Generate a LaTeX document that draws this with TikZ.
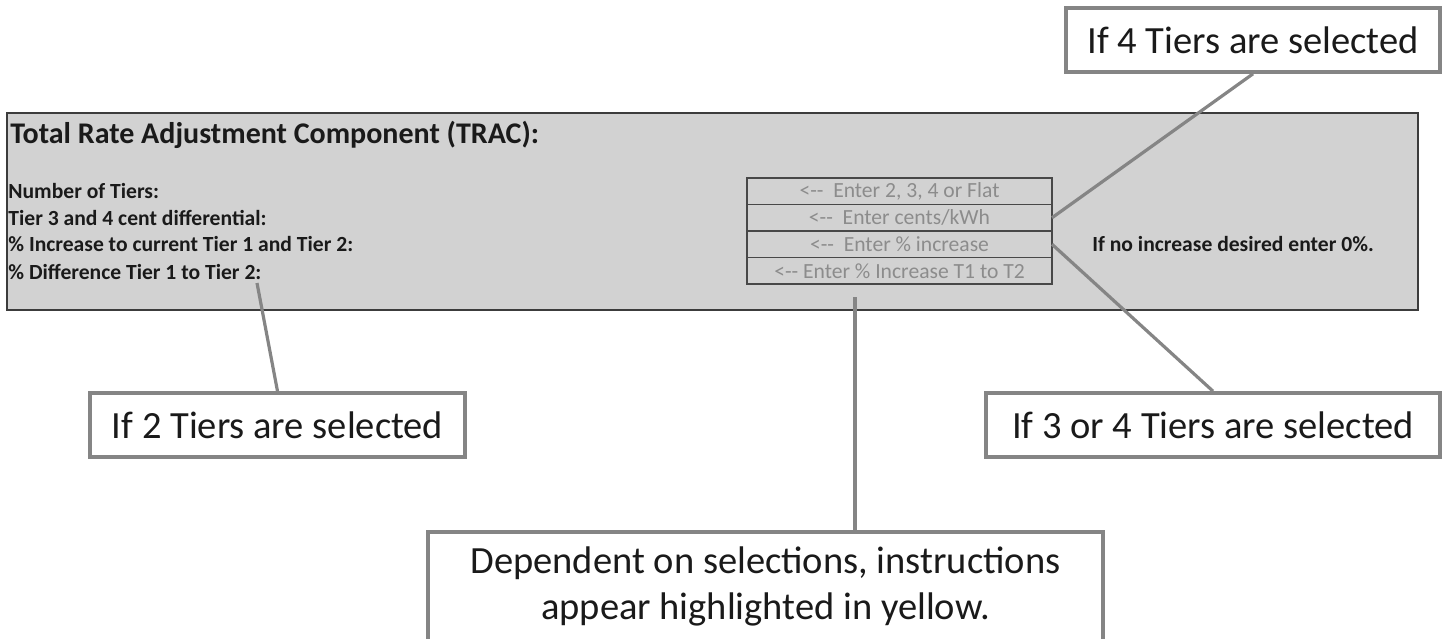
\documentclass[tikz,border=0pt]{standalone}
\usepackage{fontspec}
\setmainfont{Carlito}
\usepackage{xcolor}
\usepackage{tikz}
\usetikzlibrary{arrows.meta,positioning,calc}
\definecolor{ink}{HTML}{1A1A1A}
\definecolor{panelgray}{HTML}{D2D2D2}
\definecolor{hintgray}{HTML}{8C8C8C}
\definecolor{leadgray}{HTML}{858585}
\tikzset{
  >=Latex,
  every node/.style={text=ink},
  panel/.style={draw=ink!85,line width=1pt,fill=panelgray,minimum width=705.5pt,minimum height=98.5pt,inner sep=0pt},
  heading/.style={font=\bfseries\fontsize{15}{18}\selectfont,anchor=west,inner sep=0pt},
  field/.style={font=\bfseries\fontsize{10.8}{13}\selectfont,anchor=west,inner sep=0pt},
  entry/.style={draw=ink!80,line width=0.6pt,fill=panelgray,text=hintgray,font=\fontsize{10.8}{13}\selectfont,minimum width=152.5pt,minimum height=13.25pt,inner sep=0pt,outer sep=0pt},
  callout/.style={draw=leadgray,line width=1.8pt,fill=white,font=\fontsize{19.25}{23}\selectfont,minimum height=32pt,inner sep=0pt,align=center},
  lead/.style={draw=leadgray,line width=1.6pt}
}
\begin{document}
\begin{tikzpicture}[x=0.5pt,y=-0.5pt]
  \useasboundingbox (0,0) rectangle (1443,638);
  \node[panel] (trac) at (712.5,211.5) {};
  \node[heading] (title) at (10,135) {Total Rate Adjustment Component (TRAC):};
  \node[field] (ntiers) at (8,191) {Number of Tiers:};
  \node[field] (cdiff) at (8,218) {Tier 3 and 4 cent differential:};
  \node[field] (pinc) at (8,244) {\% Increase to current Tier 1 and Tier 2:};
  \node[field] (pdiff) at (8,272) {\% Difference Tier 1 to Tier 2:};

  \node[entry] (e1) at (899.5,191.25) {<-{}-\ \ Enter 2, 3, 4 or Flat};
  \node[entry,below=0pt of e1] (e2) {<-{}-\ \ Enter cents/kWh};
  \node[entry,below=0pt of e2] (e3) {<-{}-\ \ Enter \% increase};
  \node[entry,below=0pt of e3] (e4) {<-{}- Enter \% Increase T1 to T2};
  \node[field] (zero) at (1092,244) {If no increase desired enter 0\%.};

  \node[callout,minimum width=187pt] (four) at (1253,40) {If 4 Tiers are selected};
  \node[callout,minimum width=227pt] (threefour) at (1213,425) {If 3 or 4 Tiers are selected};
  \node[callout,minimum width=187.5pt] (two) at (277.5,425) {If 2 Tiers are selected};
  \node[callout,minimum width=337.5pt,minimum height=54.5pt] (depend) at (765.5,586.5) {Dependent on selections, instructions\\appear highlighted in yellow.};

  \coordinate (twotip) at (257,283);
  \coordinate (deptip) at (855,297);
  \draw[lead] (four.south) -- (e2.east);
  \draw[lead] (threefour.north) -- (e3.east);
  \draw[lead] (two.north) -- (twotip);
  \draw[lead] (depend.north -| deptip) -- (deptip);
\end{tikzpicture}
\end{document}
